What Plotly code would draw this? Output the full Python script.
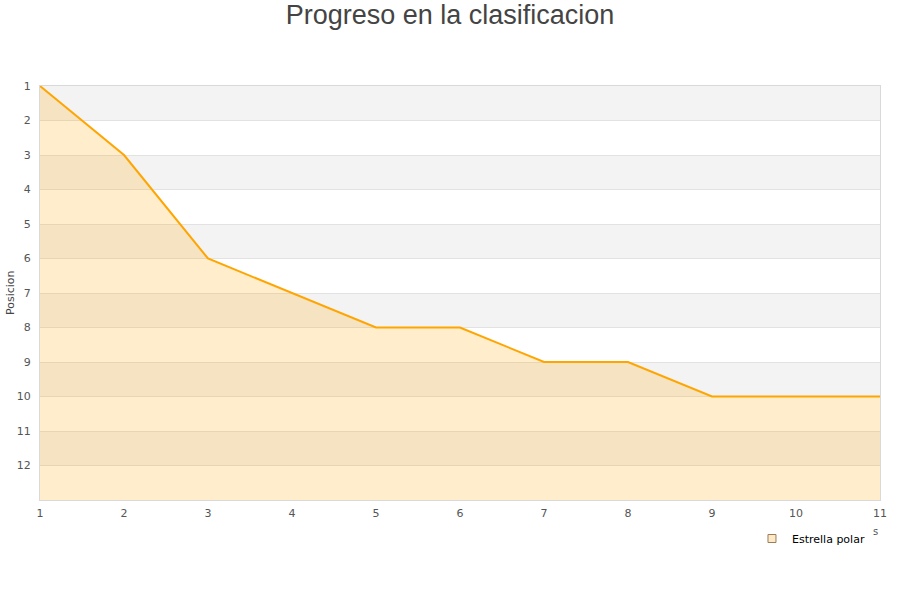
import plotly.graph_objects as go

jornadas = [1, 2, 3, 4, 5, 6, 7, 8, 9, 10, 11]
posicion = [1, 3, 6, 7, 8, 8, 9, 9, 10, 10, 10]
serie = "Estrella polar"
y_ticks = list(range(1, 13))
y_bottom = 13

fig = go.Figure()

# baseline for fill
fig.add_trace(go.Scatter(x=jornadas, y=[y_bottom] * len(jornadas), mode="lines",
                         line=dict(width=0, color="rgba(0,0,0,0)"), showlegend=False,
                         hoverinfo="skip"))
fig.add_trace(go.Scatter(x=jornadas, y=posicion, mode="lines", name=serie,
                         line=dict(color="#ffa500", width=2),
                         fill="tonexty", fillcolor="rgba(255,165,0,0.2)",
                         showlegend=False))
# legend entry
fig.add_trace(go.Scatter(x=[None], y=[None], mode="markers", name=serie,
                         marker=dict(symbol="square", size=8, color="#fde9c6",
                                     line=dict(color="#9a7d5a", width=1))))

shapes = []
for k in range(1, 13, 2):
    shapes.append(dict(type="rect", xref="paper", yref="y", x0=0, x1=1, y0=k, y1=k + 1,
                       fillcolor="#f3f3f3", line=dict(width=0), layer="below"))

fig.update_layout(
    width=900, height=600,
    margin=dict(l=40, r=20, t=86, b=100, autoexpand=False),
    paper_bgcolor="white", plot_bgcolor="white",
    title=dict(text="Progreso en la clasificacion", x=0.5, xanchor="center",
               y=1 - 15 / 600, yanchor="middle", yref="container",
               font=dict(family="Liberation Sans, Arial", size=27, color="#444444")),
    shapes=shapes,
    font=dict(family="DejaVu Sans", size=11, color="#555555"),
    xaxis=dict(range=[1, 11], tickvals=jornadas, showgrid=False, zeroline=False,
               showline=True, linecolor="#d9d9d9", mirror=True, ticks="",
               automargin=False, ticklabelstandoff=3,
               tickfont=dict(size=11, color="#555555")),
    yaxis=dict(range=[y_bottom, 1], tickvals=y_ticks, showgrid=True, gridcolor="#e2e2e2",
               zeroline=False, showline=True, linecolor="#d9d9d9", mirror=True, ticks="",
               automargin=False, ticklabelstandoff=6,
               tickfont=dict(size=11, color="#555555")),
    legend=dict(orientation="h", x=0.8476, y=-0.058, xanchor="left", yanchor="top",
                font=dict(family="DejaVu Sans", size=11, color="#000000"),
                bgcolor="rgba(0,0,0,0)"),
    annotations=[
        dict(text="s", xref="paper", yref="paper", x=0.995, y=-0.075,
             xanchor="center", yanchor="middle", showarrow=False,
             font=dict(size=10, color="#555555")),
        dict(text="Posicion", xref="paper", yref="paper", x=-30 / 840, y=0.5,
             xanchor="center", yanchor="middle", textangle=-90, showarrow=False,
             font=dict(size=11, color="#444444")),
    ],
)
fig.update_layout(yaxis_layer="above traces")

fig.write_html("out.html",
               config={"displayModeBar": False},
               post_script="document.body.style.margin='0px';")
